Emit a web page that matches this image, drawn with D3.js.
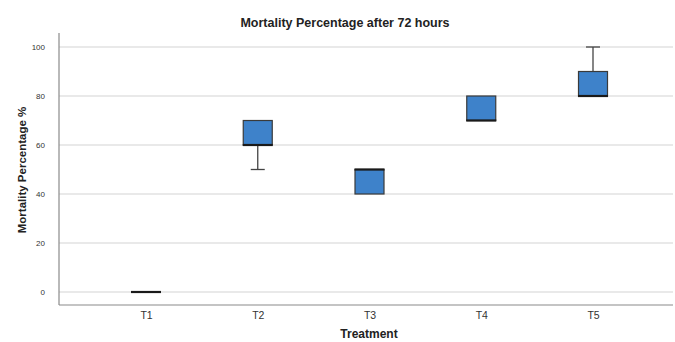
<!DOCTYPE html>
<html><head><meta charset="utf-8">
<script src="https://cdn.jsdelivr.net/npm/d3@7"></script>
<style>body{margin:0;background:#fff}svg{display:block}</style>
</head><body>
<svg id="c" width="675" height="342"></svg>
<script>
const categories = ["T1","T2","T3","T4","T5"];
const q1Values     = [0, 60, 40, 70, 80];
const medianValues = [0, 60, 50, 70, 80];
const q3Values     = [0, 70, 50, 80, 90];
const minValues    = [0, 50, 40, 70, 80];
const maxValues    = [0, 70, 50, 80, 100];
const yTicks = [0, 20, 40, 60, 80, 100];

(function () {
const svg = d3.select("#c");
const font = "'Liberation Sans', Arial, sans-serif";
const x = d3.scalePoint().domain(categories).range([146, 593]);
const y = d3.scaleLinear().domain([0, 100]).range([292, 47]);
const plotL = 59, plotR = 673, plotB = 305, plotT = 33;
const boxW = 29, capW = 14;

svg.append("g").selectAll("line").data(yTicks).join("line")
  .attr("x1", plotL).attr("x2", plotR)
  .attr("y1", d => y(d)).attr("y2", d => y(d))
  .attr("stroke", "#d4d4d4").attr("stroke-width", 1.2);

svg.append("line").attr("x1", plotL).attr("x2", plotL).attr("y1", plotT).attr("y2", plotB)
  .attr("stroke", "#8a8a8a").attr("stroke-width", 1.2);
svg.append("line").attr("x1", plotL).attr("x2", plotR).attr("y1", plotB).attr("y2", plotB)
  .attr("stroke", "#8a8a8a").attr("stroke-width", 1.2);

const yAxis = d3.axisLeft(y).tickValues(yTicks).tickSize(0).tickPadding(0);
const ya = svg.append("g").attr("transform", "translate(45,0)").call(yAxis);
ya.select(".domain").remove();
ya.selectAll("text").attr("font-family", font).attr("font-size", 8).attr("fill", "#333").attr("dy", "0.32em");

const xAxis = d3.axisBottom(x).tickSize(0).tickPadding(0);
const xa = svg.append("g").attr("transform", "translate(0,312)").call(xAxis);
xa.select(".domain").remove();
xa.selectAll("text").attr("font-family", font).attr("font-size", 10.5).attr("fill", "#333");

const data = categories.map((c, i) => ({c, q1: q1Values[i], med: medianValues[i], q3: q3Values[i], min: minValues[i], max: maxValues[i]}));

const g = svg.append("g");
data.forEach(d => {
  const cx = x(d.c);
  if (d.min < d.q1) {
    g.append("line").attr("x1", cx).attr("x2", cx).attr("y1", y(d.q1)).attr("y2", y(d.min)).attr("stroke", "#444").attr("stroke-width", 1.3);
    g.append("line").attr("x1", cx - capW/2).attr("x2", cx + capW/2).attr("y1", y(d.min)).attr("y2", y(d.min)).attr("stroke", "#444").attr("stroke-width", 1.3);
  }
  if (d.max > d.q3) {
    g.append("line").attr("x1", cx).attr("x2", cx).attr("y1", y(d.q3)).attr("y2", y(d.max)).attr("stroke", "#444").attr("stroke-width", 1.3);
    g.append("line").attr("x1", cx - capW/2).attr("x2", cx + capW/2).attr("y1", y(d.max)).attr("y2", y(d.max)).attr("stroke", "#444").attr("stroke-width", 1.3);
  }
  if (d.q3 > d.q1) {
    g.append("rect").attr("x", cx - boxW/2).attr("y", y(d.q3)).attr("width", boxW).attr("height", y(d.q1) - y(d.q3))
      .attr("fill", "#3e82ca").attr("stroke", "#3a3a3a").attr("stroke-width", 1.2);
  }
  g.append("line").attr("x1", cx - boxW/2 - 0.5).attr("x2", cx + boxW/2 + 0.5).attr("y1", y(d.med)).attr("y2", y(d.med))
    .attr("stroke", "#1a1a1a").attr("stroke-width", 2.2);
});

svg.append("text").attr("x", 345).attr("y", 27).attr("text-anchor", "middle")
  .attr("font-family", font).attr("font-weight", "bold").attr("font-size", 12.5).attr("fill", "#222")
  .text("Mortality Percentage after 72 hours");
svg.append("text").attr("x", 369).attr("y", 338).attr("text-anchor", "middle")
  .attr("font-family", font).attr("font-weight", "bold").attr("font-size", 12).attr("fill", "#222")
  .text("Treatment");
svg.append("text").attr("transform", "translate(26,170) rotate(-90)").attr("text-anchor", "middle")
  .attr("font-family", font).attr("font-weight", "bold").attr("font-size", 11.5).attr("fill", "#222")
  .text("Mortality Percentage %");
})();
</script>
</body></html>
